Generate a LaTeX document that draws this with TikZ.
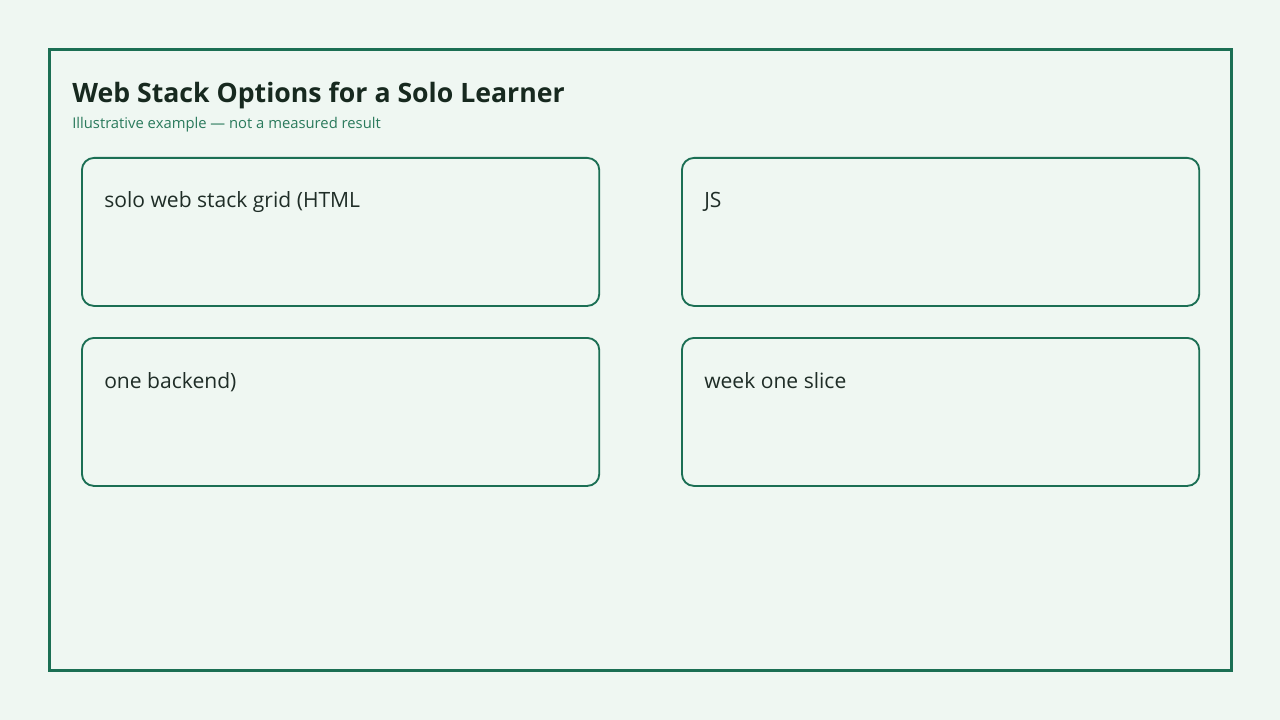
\documentclass[tikz,border=0pt]{standalone}
\usepackage{fontspec}
\setmainfont{Open Sans}
\definecolor{bgpaper}{HTML}{EFF7F2}
\definecolor{framegreen}{HTML}{1B6F54}
\definecolor{inkdark}{HTML}{17291F}
\definecolor{subgreen}{HTML}{2A7A5C}
\definecolor{celltext}{HTML}{1F2D27}
\tikzset{
  cell/.style={draw=framegreen, line width=1.4pt, rounded corners=9pt, minimum width=388pt, minimum height=111pt, anchor=north west},
  celllabel/.style={anchor=base west, inner sep=0pt, text=celltext, font=\fontsize{15.8}{19}\selectfont},
}
\begin{document}
\begin{tikzpicture}[x=0.75pt,y=-0.75pt]
\fill[bgpaper] (0,0) rectangle (1280,720);
\useasboundingbox (0,0) rectangle (1280,720);
\draw[framegreen, line width=2.4pt] (49.5,49.5) rectangle (1231.5,670.5);

\node[anchor=base west, inner sep=0pt, text=inkdark, font=\fontsize{20}{24}\selectfont\bfseries] (title) at (72,103) {Web Stack Options for a Solo Learner};
\node[anchor=base west, inner sep=0pt, text=subgreen, font=\fontsize{11.1}{13}\selectfont] (subtitle) at (72,129) {Illustrative example — not a measured result};

\node[cell] (c1) at (81,157) {};
\node[cell] (c2) at (681,157) {};
\node[cell] (c3) at (81,337) {};
\node[cell] (c4) at (681,337) {};

\node[celllabel] (t1) at (104,208) {solo web stack grid (HTML};
\node[celllabel] (t2) at (704,208) {JS};
\node[celllabel] (t3) at (104,388) {one backend)};
\node[celllabel] (t4) at (704,388) {week one slice};

\end{tikzpicture}
\end{document}
